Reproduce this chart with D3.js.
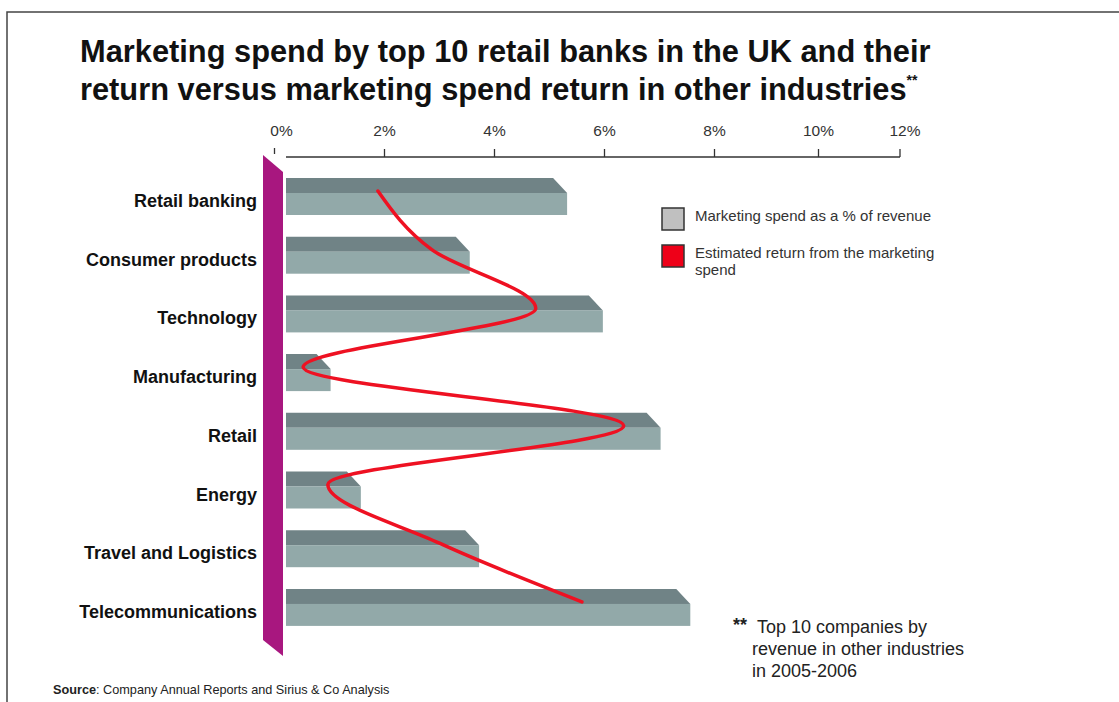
<!DOCTYPE html>
<html>
<head>
<meta charset="utf-8">
<script src="https://cdn.jsdelivr.net/npm/d3@7"></script>
<style>
  body { margin: 0; background: #fff; }
  svg { display: block; font-family: "Liberation Sans", Arial, sans-serif; }
</style>
</head>
<body>
<div id="chart"></div>
<script>
// 業種
const categories = ["Retail banking", "Consumer products", "Technology", "Manufacturing",
                    "Retail", "Energy", "Travel and Logistics", "Telecommunications"];
// マーケティング費用（売上比 %）
const spendValues = [5.32, 3.55, 5.97, 1.02, 7.02, 1.57, 3.72, 7.56];
// マーケティング費用からの推定リターン（%）
const returnValues = [1.88, 2.86, 4.75, 0.52, 6.35, 0.97, 3.0, 5.59];
// 目盛り
const tickValues = [0, 2, 4, 6, 8, 10, 12];

const W = 1119, H = 702;

const svg = d3.select("#chart").append("svg")
  .attr("width", W)
  .attr("height", H);

// 枠線
svg.append("path")
  .attr("d", "M7,702 V12 H1119")
  .attr("fill", "none")
  .attr("stroke", "#444")
  .attr("stroke-width", 1.5);

// タイトル
const title = svg.append("text")
  .attr("x", 80)
  .attr("font-size", 30.8)
  .attr("font-weight", "bold")
  .attr("fill", "#111");
title.append("tspan").attr("x", 80).attr("y", 62)
  .text("Marketing spend by top 10 retail banks in the UK and their");
title.append("tspan").attr("x", 80).attr("y", 100)
  .text("return versus marketing spend return in other industries");
title.append("tspan").attr("dy", -15).attr("font-size", 14).text("**");

// x軸（元の図は10%以降が詰まっているので区分線形にする）
const x = d3.scaleLinear()
  .domain([0, 8, 10, 12])
  .range([274.5, 714.5, 818.5, 900]);

// y軸（バンド）
const y = d3.scaleBand()
  .domain(categories)
  .range([178, 178 + 8 * 58.7]);

const barStart = 286;
const topH = 15, frontH = 22, depth = 14;

// 軸の線と目盛り
const axisY = 157;
svg.append("line")
  .attr("x1", barStart).attr("x2", x(12))
  .attr("y1", axisY).attr("y2", axisY)
  .attr("stroke", "#333").attr("stroke-width", 1.5);

svg.selectAll(".tick-mark")
  .data(tickValues)
  .join("line")
  .attr("class", "tick-mark")
  .attr("x1", d => x(d)).attr("x2", d => x(d))
  .attr("y1", d => d === 0 ? 148 : 149)
  .attr("y2", d => d === 0 ? 154 : axisY)
  .attr("stroke", "#333")
  .attr("stroke-width", 1.3);

svg.selectAll(".tick-label")
  .data(tickValues)
  .join("text")
  .attr("class", "tick-label")
  .attr("x", d => x(d) + (d === 0 ? 7 : d === 12 ? 5 : 0))
  .attr("y", 136)
  .attr("text-anchor", "middle")
  .attr("font-size", 15.5)
  .attr("fill", "#333")
  .text(d => d + "%");

// 紫の壁
svg.append("path")
  .attr("d", "M263,155 L283,172 L283,656 L263,640 Z")
  .attr("fill", "#a8177f");

// 棒（上面と前面）
const bars = svg.selectAll(".bar")
  .data(categories.map((c, i) => ({ c, v: spendValues[i] })))
  .join("g")
  .attr("class", "bar");

bars.append("path")
  .attr("d", d => {
    const t = y(d.c), r = x(d.v);
    return `M${barStart},${t} L${r - depth},${t} L${r},${t + topH} L${barStart},${t + topH} Z`;
  })
  .attr("fill", "#708386");

bars.append("rect")
  .attr("x", barStart)
  .attr("y", d => y(d.c) + topH)
  .attr("width", d => x(d.v) - barStart)
  .attr("height", frontH)
  .attr("fill", "#92a9a9");

// 業種ラベル
svg.selectAll(".cat-label")
  .data(categories)
  .join("text")
  .attr("class", "cat-label")
  .attr("x", 257)
  .attr("y", d => y(d) + 29)
  .attr("text-anchor", "end")
  .attr("font-size", 18)
  .attr("font-weight", "bold")
  .attr("fill", "#111")
  .text(d => d);

// リターンの曲線
const line = d3.line()
  .x(d => x(d.v))
  .y(d => y(d.c) + 13)
  .curve(d3.curveMonotoneY);

svg.append("path")
  .datum(categories.map((c, i) => ({ c, v: returnValues[i] })))
  .attr("d", line)
  .attr("fill", "none")
  .attr("stroke", "#ee1122")
  .attr("stroke-width", 3.5)
  .attr("stroke-linecap", "round");

// 凡例
const legend = [
  { fill: "#c0c0c0", lines: ["Marketing spend as a % of revenue"], y: 208 },
  { fill: "#ee0018", lines: ["Estimated return from the marketing", "spend"], y: 245 }
];
const lg = svg.selectAll(".legend")
  .data(legend)
  .join("g")
  .attr("class", "legend");
lg.append("rect")
  .attr("x", 662).attr("y", d => d.y)
  .attr("width", 22).attr("height", 22)
  .attr("fill", d => d.fill)
  .attr("stroke", "#333").attr("stroke-width", 1.5);
lg.each(function(d) {
  const t = d3.select(this).append("text")
    .attr("font-size", 15)
    .attr("fill", "#333");
  d.lines.forEach((s, i) => {
    t.append("tspan").attr("x", 695).attr("y", d.y + 13 + i * 17).text(s);
  });
});

// 注記
const note = svg.append("text").attr("font-size", 18).attr("fill", "#222");
note.append("tspan").attr("x", 733).attr("y", 631).attr("font-weight", "bold").text("**");
note.append("tspan").attr("x", 757).attr("y", 633).text("Top 10 companies by");
note.append("tspan").attr("x", 752).attr("y", 655).text("revenue in other industries");
note.append("tspan").attr("x", 752).attr("y", 677).text("in 2005-2006");

// 出典
const src = svg.append("text").attr("x", 53).attr("y", 694).attr("font-size", 12.7).attr("fill", "#222");
src.append("tspan").attr("font-weight", "bold").text("Source");
src.append("tspan").text(": Company Annual Reports and Sirius & Co Analysis");
</script>
</body>
</html>
